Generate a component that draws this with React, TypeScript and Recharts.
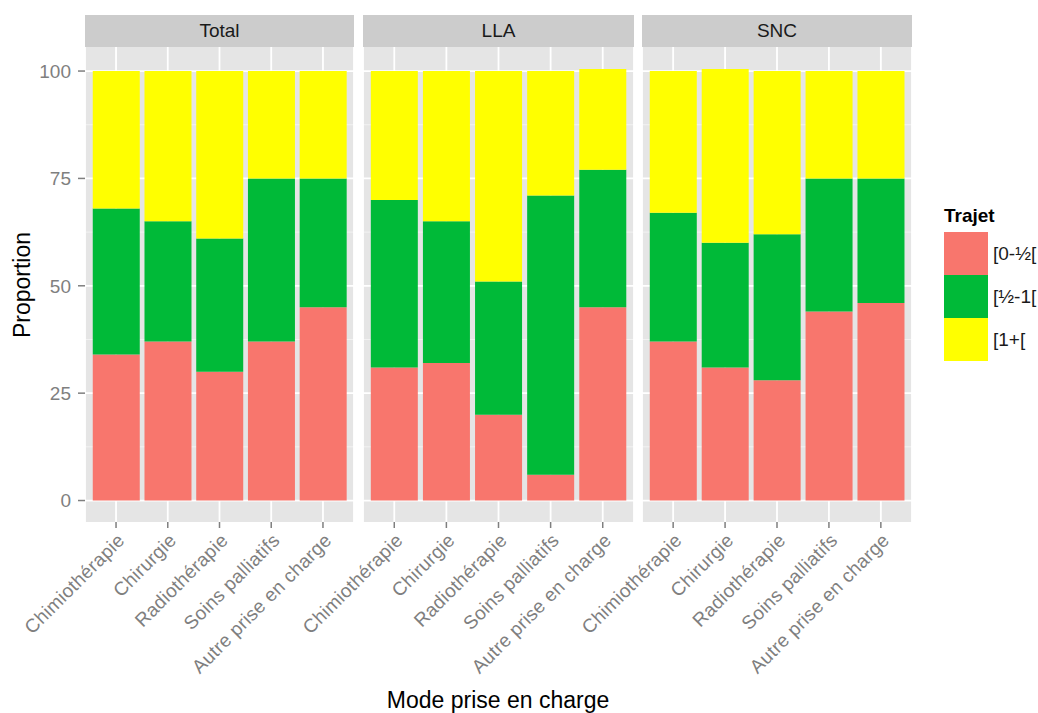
import { Bar, BarChart, CartesianGrid, XAxis, YAxis } from "recharts"

const categories = ["Chimiothérapie", "Chirurgie", "Radiothérapie", "Soins palliatifs", "Autre prise en charge"]
const facets = ["Total", "LLA", "SNC"]
const trajets = ["[0-½[", "[½-1[", "[1+["]
const trajetColors = ["#F8766D", "#00BA38", "#FFFF00"]
const yTicks = [0, 25, 50, 75, 100]
const yMinor = [12.5, 37.5, 62.5, 87.5]

// proportions per trajet, one array per facet
const totalNear = [34, 37, 30, 37, 45]
const totalMid = [34, 28, 31, 38, 30]
const totalFar = [32, 35, 39, 25, 25]

const llaNear = [31, 32, 20, 6, 45]
const llaMid = [39, 33, 31, 65, 32]
const llaFar = [30, 35, 49, 29, 23.5]

const sncNear = [37, 31, 28, 44, 46]
const sncMid = [30, 29, 34, 31, 29]
const sncFar = [33, 40.5, 38, 25, 25]

const buildRows = (near: number[], mid: number[], far: number[]) =>
  categories.map((mode, i) => ({ mode, near: near[i], mid: mid[i], far: far[i] }))

const facetRows = [
  buildRows(totalNear, totalMid, totalFar),
  buildRows(llaNear, llaMid, llaFar),
  buildRows(sncNear, sncMid, sncFar),
]

const FONT = "'Liberation Sans', Arial, sans-serif"
const PLOT_TOP = 47
const PLOT_H = 475
const AXIS_H = 170
const panelLeft = [85, 363, 642]
const panelWidth = [269, 271, 270]

const AngledTick = ({ x, y, payload }: any) => (
  <text
    x={x}
    y={y}
    dy="0.72em"
    transform={`rotate(-45, ${x}, ${y})`}
    textAnchor="end"
    fill="#7F7F7F"
    fontSize={19}
    letterSpacing={0.3}
    fontFamily={FONT}
  >
    {payload.value}
  </text>
)

function Panel({ index }: { index: number }) {
  const showY = index === 0
  const yWidth = showY ? panelLeft[0] : 0
  const w = panelWidth[index]
  const pad = (w / 5.2) * 0.1
  const chartLeft = panelLeft[index] - yWidth

  return (
    <>
      <div
        style={{
          position: "absolute",
          left: panelLeft[index],
          top: 15,
          width: w,
          height: PLOT_TOP - 15,
          background: "#CCCCCC",
          color: "#1A1A1A",
          fontSize: 19,
          lineHeight: `${PLOT_TOP - 15}px`,
          textAlign: "center",
        }}
      >
        {facets[index]}
      </div>
      <div style={{ position: "absolute", left: chartLeft, top: PLOT_TOP }}>
        <BarChart
          width={w + yWidth}
          height={PLOT_H + AXIS_H}
          data={facetRows[index]}
          margin={{ top: 0, right: 0, bottom: 0, left: 0 }}
          barCategoryGap="5%"
        >
          <CartesianGrid
            fill="#E5E5E5"
            stroke="#F2F2F2"
            strokeWidth={1}
            vertical={false}
            horizontalValues={yMinor}
          />
          <CartesianGrid stroke="#FFFFFF" strokeWidth={1.8} horizontalValues={yTicks} />
          <XAxis
            dataKey="mode"
            interval={0}
            axisLine={false}
            tickSize={6}
            tickMargin={4}
            tickLine={{ stroke: "#7F7F7F", strokeWidth: 1.5 }}
            padding={{ left: pad, right: pad }}
            height={AXIS_H}
            tick={<AngledTick />}
          />
          <YAxis
            hide={!showY}
            width={yWidth}
            domain={[-5, 105.6]}
            allowDataOverflow
            ticks={yTicks}
            axisLine={false}
            tickSize={7}
            tickMargin={7}
            tickLine={{ stroke: "#7F7F7F", strokeWidth: 1.5 }}
            tick={{ fill: "#7F7F7F", fontSize: 19, fontFamily: FONT }}
          />
          <Bar dataKey="near" stackId="a" fill={trajetColors[0]} isAnimationActive={false} />
          <Bar dataKey="mid" stackId="a" fill={trajetColors[1]} isAnimationActive={false} />
          <Bar dataKey="far" stackId="a" fill={trajetColors[2]} isAnimationActive={false} />
        </BarChart>
      </div>
    </>
  )
}

export default function App() {
  return (
    <div
      style={{
        position: "absolute",
        left: 0,
        top: 0,
        width: 1038,
        height: 713,
        background: "#FFFFFF",
        fontFamily: FONT,
        overflow: "hidden",
      }}
    >
      <style>{".recharts-surface { overflow: visible; }"}</style>
      {facets.map((f, i) => (
        <Panel key={f} index={i} />
      ))}

      <div
        style={{
          position: "absolute",
          left: 22 - 100,
          top: 285 - 15,
          width: 200,
          height: 30,
          lineHeight: "30px",
          textAlign: "center",
          fontSize: 23,
          color: "#000",
          transform: "rotate(-90deg)",
        }}
      >
        Proportion
      </div>
      <div
        style={{
          position: "absolute",
          left: 498 - 200,
          top: 700 - 15,
          width: 400,
          height: 30,
          lineHeight: "30px",
          textAlign: "center",
          fontSize: 23,
          color: "#000",
        }}
      >
        Mode prise en charge
      </div>

      <div style={{ position: "absolute", left: 944, top: 205 }}>
        <div style={{ fontSize: 19, fontWeight: "bold", color: "#000", height: 27 }}>Trajet</div>
        {trajets.map((t, i) => (
          <div key={t} style={{ display: "flex", alignItems: "center", height: 43 }}>
            <div style={{ width: 44, height: 43, background: trajetColors[i] }} />
            <span style={{ marginLeft: 5, fontSize: 19, color: "#1A1A1A" }}>{t}</span>
          </div>
        ))}
      </div>
    </div>
  )
}
